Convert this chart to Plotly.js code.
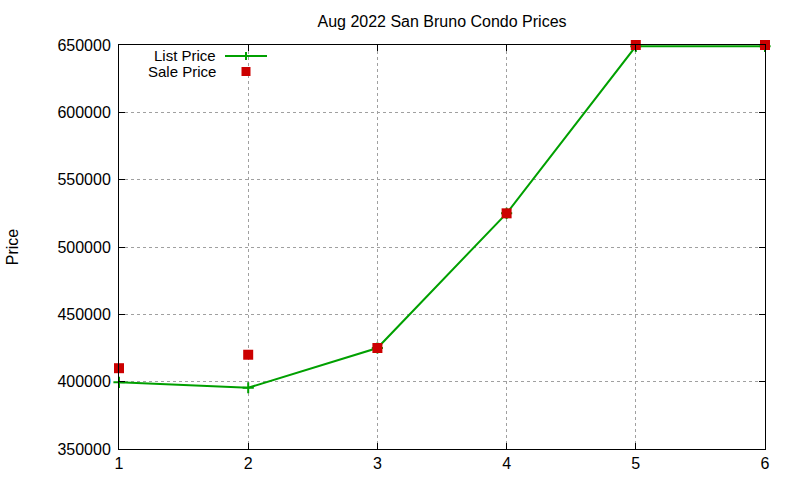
<!DOCTYPE html>
<html>
<head>
<meta charset="utf-8">
<script src="https://cdn.plot.ly/plotly-3.0.1.min.js"></script>
<style>
  html, body { margin: 0; padding: 0; background: #fff; }
  #myDiv { width: 800px; height: 480px; }
</style>
</head>
<body>
<div id="myDiv"></div>
<script>
var listings = [1, 2, 3, 4, 5, 6];
var listPrice = [399500, 395500, 425000, 525000, 649000, 649000];
var salePrice = [410000, 420000, 425000, 525000, 650000, 650000];
var yTicks = [350000, 400000, 450000, 500000, 550000, 600000, 650000];

var green = 'rgb(0,160,0)';
var red = 'rgb(204,0,0)';
var fnt = 'Liberation Sans, Arial, sans-serif';

var trace1 = {
  x: listings,
  y: listPrice,
  type: 'scatter',
  mode: 'lines+markers',
  name: 'List Price',
  line: { color: green, width: 2 },
  marker: { symbol: 'cross-thin', size: 8, line: { color: green, width: 2 } },
  cliponaxis: false,
  showlegend: false
};

var trace2 = {
  x: listings,
  y: salePrice,
  type: 'scatter',
  mode: 'markers',
  name: 'Sale Price',
  marker: { symbol: 'square', size: 10, color: red },
  cliponaxis: false,
  showlegend: false
};

// gnuplot-style key: text on the left, sample on the right
function px(x) { return (x - 119) / 646; }
function py(y) { return (449 - y) / 404; }

var layout = {
  width: 800,
  height: 480,
  margin: { l: 119, r: 35, t: 45, b: 31 },
  paper_bgcolor: '#fff',
  plot_bgcolor: '#fff',
  font: { family: fnt, size: 16, color: '#000' },
  title: {
    text: 'Aug 2022 San Bruno Condo Prices',
    font: { family: fnt, size: 16, color: '#000' },
    xref: 'paper', x: 0.5, xanchor: 'center', y: 1 - 21 / 480, yanchor: 'middle'
  },
  xaxis: {
    range: [1, 6],
    tickvals: listings,
    showline: true, mirror: 'ticks', linecolor: '#000', linewidth: 1,
    ticks: 'inside', ticklen: 6, tickcolor: '#000',
    showgrid: true, gridcolor: '#a0a0a0', griddash: 'dot', gridwidth: 1,
    zeroline: false,
    tickfont: { family: fnt, size: 16, color: '#000' }
  },
  yaxis: {
    range: [350000, 650000],
    tickvals: yTicks,
    ticktext: yTicks.map(String),
    showline: true, mirror: 'ticks', linecolor: '#000', linewidth: 1,
    ticks: 'inside', ticklen: 6, tickcolor: '#000',
    showgrid: true, gridcolor: '#a0a0a0', griddash: 'dot', gridwidth: 1,
    zeroline: false,
    ticklabelstandoff: 4,
    tickfont: { family: fnt, size: 16, color: '#000' },
    title: { text: 'Price', font: { family: fnt, size: 16, color: '#000' }, standoff: 34 }
  },
  annotations: [
    { xref: 'paper', yref: 'paper', x: px(218), y: py(55.5), xanchor: 'right', yanchor: 'middle',
      text: 'List Price', showarrow: false, font: { family: fnt, size: 15, color: '#000' } },
    { xref: 'paper', yref: 'paper', x: px(218), y: py(72), xanchor: 'right', yanchor: 'middle',
      text: 'Sale Price', showarrow: false, font: { family: fnt, size: 15, color: '#000' } }
  ],
  shapes: [
    { type: 'line', xref: 'paper', yref: 'paper', x0: px(225), x1: px(267), y0: py(56), y1: py(56),
      line: { color: green, width: 2 } },
    { type: 'line', xref: 'paper', yref: 'paper', x0: px(246), x1: px(246), y0: py(52), y1: py(60),
      line: { color: green, width: 2 } },
    { type: 'rect', xref: 'paper', yref: 'paper', x0: px(241.5), x1: px(250.5), y0: py(67), y1: py(76),
      fillcolor: red, line: { width: 0 } }
  ]
};

Plotly.newPlot('myDiv', [trace1, trace2], layout, { displayModeBar: false, staticPlot: true });
</script>
</body>
</html>
